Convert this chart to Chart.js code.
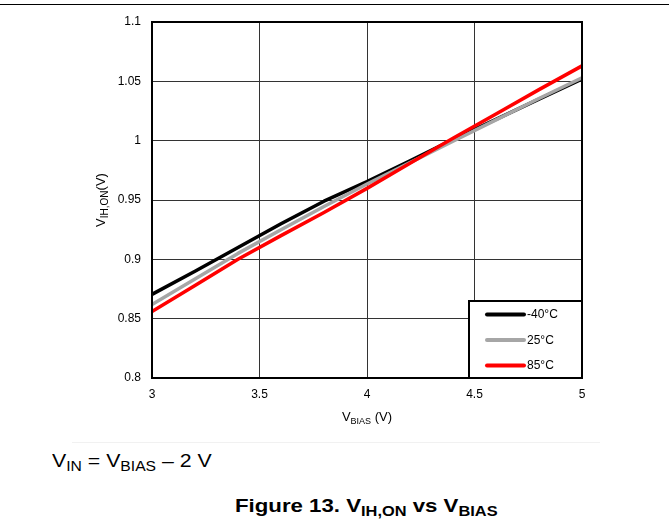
<!DOCTYPE html>
<html>
<head>
<meta charset="utf-8">
<script src="https://cdn.jsdelivr.net/npm/chart.js@4.4.1/dist/chart.umd.min.js"></script>
<style>
  html, body { margin: 0; padding: 0; background: #fff; }
  body { width: 669px; height: 527px; overflow: hidden; position: relative;
         font-family: "Liberation Sans", Arial, sans-serif; color: #000; }
  #rule { position: absolute; left: 0; top: 4px; width: 669px; height: 1px; background: #000; }
  #faint { position: absolute; left: 72px; top: 442px; width: 528px; height: 1px; background: #f1f1f1; }
  #wrap { position: absolute; left: 0; top: 0; width: 669px; height: 440px; }
  .cap { position: absolute; white-space: nowrap; transform-origin: 0 0; line-height: 19px; font-size: 19px; }
  .cap .s { font-size: 14px; position: relative; top: 4px; }
  #cond { left: 52px; top: 451px; transform: scaleX(1.12); }
  #fig { left: 235px; top: 496px; font-weight: bold; transform: scaleX(1.17); }
</style>
</head>
<body>
<div id="rule"></div>
<div id="wrap"><canvas id="chart" width="669" height="440"></canvas></div>
<div id="faint"></div>
<div class="cap" id="cond">V<span class="s">IN</span> = V<span class="s">BIAS</span> – 2 V</div>
<div class="cap" id="fig">Figure 13. V<span class="s">IH,ON</span> vs V<span class="s">BIAS</span></div>
<script>
// Bias voltage sweep (V)
const vBias = [3, 3.2, 3.4, 3.6, 3.8, 4, 4.2, 4.4, 4.6, 4.8, 5];
// VIH,ON (V) at each temperature
const vihMinus40 = [0.8705, 0.890, 0.910, 0.930, 0.949, 0.9655, 0.983, 1.001, 1.018, 1.035, 1.052];
const vih25      = [0.862, 0.8835, 0.905, 0.925, 0.9445, 0.9635, 0.9815, 0.9995, 1.0175, 1.0355, 1.053];
const vih85      = [0.856, 0.878, 0.900, 0.920, 0.9395, 0.9598, 0.981, 1.002, 1.0225, 1.043, 1.063];

const seriesLabels = ['-40°C', '25°C', '85°C'];
const seriesColors = ['#000000', '#a6a6a6', '#ff0000'];

const xTickValues = [3, 3.5, 4, 4.5, 5];
const xTickLabels = ['3', '3.5', '4', '4.5', '5'];
const yTickValues = [0.8, 0.85, 0.9, 0.95, 1, 1.05, 1.1];
const yTickLabels = ['0.8', '0.85', '0.9', '0.95', '1', '1.05', '1.1'];

const FONT = '"Liberation Sans", Arial, sans-serif';

function toPoints(ys) { return vBias.map((x, i) => ({ x: x, y: ys[i] })); }

// Draws a run of text pieces, some of them subscripted, centred on x
function drawRuns(ctx, runs, x, y) {
  let total = 0;
  runs.forEach(r => { ctx.font = r.size + 'px ' + FONT; r.w = ctx.measureText(r.t).width; total += r.w; });
  let cx = x - total / 2;
  ctx.textAlign = 'left';
  ctx.textBaseline = 'alphabetic';
  runs.forEach(r => {
    ctx.font = r.size + 'px ' + FONT;
    ctx.fillText(r.t, cx, y + (r.dy || 0));
    cx += r.w;
  });
}

const decor = {
  id: 'decor',
  afterDatasetsDraw(chart) {
    const { ctx, chartArea: a } = chart;
    ctx.save();
    // frame around the plot
    ctx.strokeStyle = '#000';
    ctx.lineWidth = 2;
    ctx.strokeRect(a.left, a.top, a.right - a.left, a.bottom - a.top);

    // legend box in the lower-right corner
    const bw = 113, bh = 77;
    const bx = a.right - bw, by = a.bottom - bh;
    ctx.fillStyle = '#fff';
    ctx.fillRect(bx, by, bw, bh);
    ctx.strokeRect(bx, by, bw, bh);
    chart.data.datasets.forEach((ds, i) => {
      const y = by + 13.5 + i * 25.5;
      ctx.strokeStyle = ds.borderColor;
      ctx.lineWidth = 4;
      ctx.lineCap = 'round';
      ctx.beginPath();
      ctx.moveTo(bx + 18, y);
      ctx.lineTo(bx + 55, y);
      ctx.stroke();
      ctx.fillStyle = '#000';
      ctx.font = '12px ' + FONT;
      ctx.textAlign = 'left';
      ctx.textBaseline = 'middle';
      ctx.fillText(ds.label, bx + 58, y + 0.5);
    });
    ctx.restore();
  },
  afterDraw(chart) {
    const { ctx, chartArea: a } = chart;
    ctx.save();
    ctx.fillStyle = '#000';
    // x axis title
    drawRuns(ctx, [
      { t: 'V', size: 13 },
      { t: 'BIAS', size: 9, dy: 3 },
      { t: ' (V)', size: 13 }
    ], (a.left + a.right) / 2, 421);
    // y axis title
    ctx.translate(105, (a.top + a.bottom) / 2);
    ctx.rotate(-Math.PI / 2);
    drawRuns(ctx, [
      { t: 'V', size: 13 },
      { t: 'IH,ON', size: 10, dy: 3 },
      { t: '(V)', size: 13 }
    ], 0, 0);
    ctx.restore();
  }
};

new Chart(document.getElementById('chart'), {
  type: 'line',
  data: {
    datasets: [
      { label: seriesLabels[0], data: toPoints(vihMinus40), borderColor: seriesColors[0], order: 3 },
      { label: seriesLabels[1], data: toPoints(vih25),      borderColor: seriesColors[1], order: 2 },
      { label: seriesLabels[2], data: toPoints(vih85),      borderColor: seriesColors[2], order: 1 }
    ]
  },
  options: {
    responsive: false,
    animation: false,
    devicePixelRatio: 1,
    layout: { padding: { left: 0, top: 22, right: 87, bottom: 0 } },
    elements: {
      point: { radius: 0, hoverRadius: 0 },
      line: { borderWidth: 3.5, tension: 0, fill: false, borderCapStyle: 'butt', borderJoinStyle: 'round' }
    },
    plugins: { legend: { display: false }, tooltip: { enabled: false } },
    scales: {
      x: {
        type: 'linear', min: 3, max: 5,
        afterBuildTicks: s => { s.ticks = xTickValues.map(v => ({ value: v })); },
        afterFit: s => { s.height = 62; },
        border: { display: false },
        grid: { color: '#333', lineWidth: 1, drawTicks: false },
        ticks: {
          padding: 9, color: '#000', autoSkip: false, maxRotation: 0,
          font: { family: FONT, size: 12 },
          callback: (v, i) => xTickLabels[i]
        }
      },
      y: {
        type: 'linear', min: 0.8, max: 1.1,
        afterBuildTicks: s => { s.ticks = yTickValues.map(v => ({ value: v })); },
        afterFit: s => { s.width = 152; },
        border: { display: false },
        grid: { color: '#333', lineWidth: 1, drawTicks: false },
        ticks: {
          padding: 11, color: '#000', autoSkip: false,
          font: { family: FONT, size: 12 },
          callback: (v, i) => yTickLabels[i]
        }
      }
    }
  },
  plugins: [decor]
});
</script>
</body>
</html>
